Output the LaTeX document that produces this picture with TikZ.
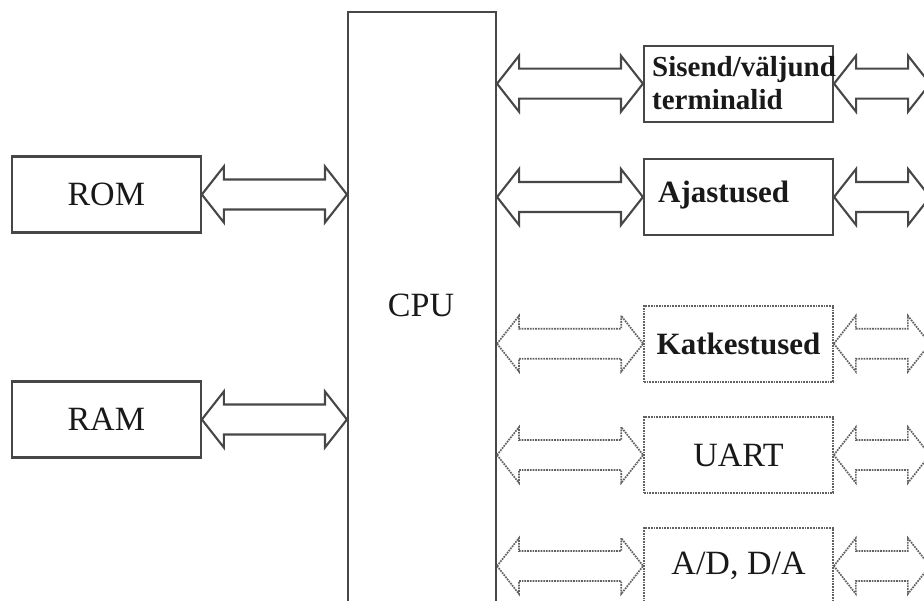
\documentclass[tikz,border=0pt]{standalone}
\usepackage{fontspec}
\setmainfont{Liberation Serif}
\usetikzlibrary{calc}

% hollow double-headed bus arrow between two points on one horizontal line
\newcommand\busarrow[3][bus]{%
  \draw[#1] let \p1=#2, \p2=#3 in
    (\x1,\y1) -- (\x1+22pt,\y1+28pt) -- (\x1+22pt,\y1+15pt)
    -- (\x2-22pt,\y1+15pt) -- (\x2-22pt,\y1+28pt) -- (\x2,\y1)
    -- (\x2-22pt,\y1-28pt) -- (\x2-22pt,\y1-15pt)
    -- (\x1+22pt,\y1-15pt) -- (\x1+22pt,\y1-28pt) -- cycle;}

\tikzset{
  blk/.style={draw=black!72, line width=2.1pt, minimum width=189pt,
    minimum height=76pt, inner sep=0pt, text=black!90,
    font=\fontsize{34}{40}\selectfont},
  dotblk/.style={blk, draw=black!62, line width=1.7pt, densely dotted},
  bus/.style={draw=black!72, line width=2.1pt, line join=miter},
  dotbus/.style={draw=black!62, line width=1.7pt, densely dotted, line join=miter},
  boldlbl/.style={inner sep=0pt, text=black!90, font=\bfseries\fontsize{31}{33}\selectfont},
}

\begin{document}
\begin{tikzpicture}[x=1pt, y=-1pt]
  \useasboundingbox (0,0) rectangle (924,601);
  \clip (0,0) rectangle (924,601);

  % processor
  \node[blk, minimum width=148pt, minimum height=628pt] (cpu) at (422,326) {};
  \node[inner sep=0pt, text=black!90, font=\fontsize{34}{40}\selectfont]
    (cputxt) at (421,305) {CPU};

  % memories
  \node[blk] (rom) at (106.3,194.5) {ROM};
  \node[blk] (ram) at (106.3,419.5) {RAM};

  % peripherals
  \node[blk] (sis) at (738.5,83.7) {};
  \node[boldlbl, font=\bfseries\fontsize{29}{33}\selectfont, align=left, anchor=base west]
    (sistxt) at (652,110) {Sisend/väljund\\terminalid};
  \node[blk] (aja) at (738.5,197) {};
  \node[boldlbl, anchor=base west] (ajatxt) at (658,202.5) {Ajastused};
  \node[dotblk, font=\bfseries\fontsize{31}{33}\selectfont] (kat) at (738.5,343.7) {Katkestused};
  \node[dotblk] (uart) at (738.5,455) {UART};
  \node[dotblk] (adda) at (738.5,566) {A/D, D/A};

  % outer ends of the peripheral buses
  \coordinate (sisout)  at ($(sis.east)+(96,0)$);
  \coordinate (ajaout)  at ($(aja.east)+(96,0)$);
  \coordinate (katout)  at ($(kat.east)+(96,0)$);
  \coordinate (uartout) at ($(uart.east)+(96,0)$);
  \coordinate (addaout) at ($(adda.east)+(96,0)$);

  % memory buses
  \busarrow{(rom.east)}{(cpu.west |- rom.east)}
  \busarrow{(ram.east)}{(cpu.west |- ram.east)}

  % peripheral buses
  \busarrow{(cpu.east |- sis.west)}{(sis.west)}
  \busarrow{(sis.east)}{(sisout)}
  \busarrow{(cpu.east |- aja.west)}{(aja.west)}
  \busarrow{(aja.east)}{(ajaout)}
  \busarrow[dotbus]{(cpu.east |- kat.west)}{(kat.west)}
  \busarrow[dotbus]{(kat.east)}{(katout)}
  \busarrow[dotbus]{(cpu.east |- uart.west)}{(uart.west)}
  \busarrow[dotbus]{(uart.east)}{(uartout)}
  \busarrow[dotbus]{(cpu.east |- adda.west)}{(adda.west)}
  \busarrow[dotbus]{(adda.east)}{(addaout)}
\end{tikzpicture}
\end{document}
